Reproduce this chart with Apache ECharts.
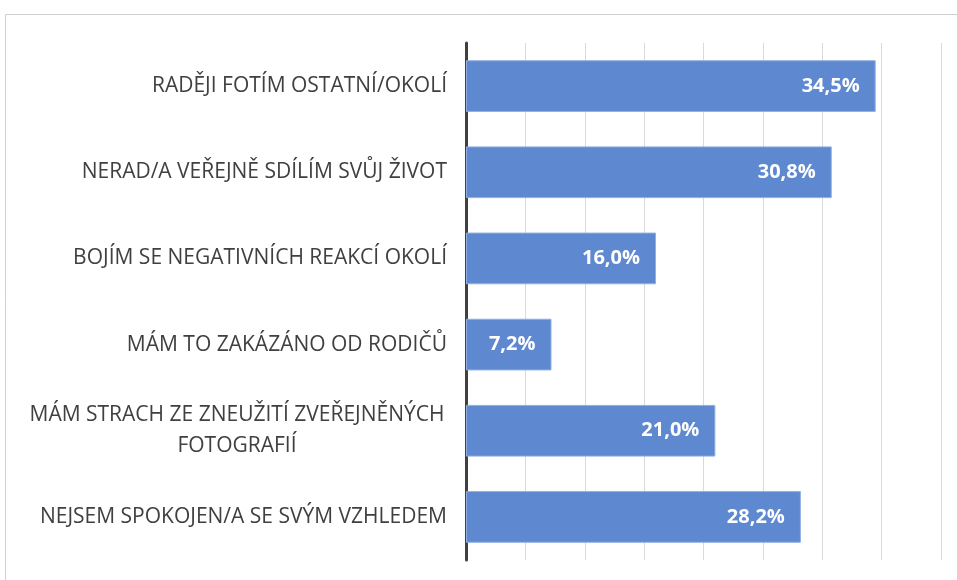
<!DOCTYPE html>
<html>
<head>
<meta charset="utf-8">
<script src="https://cdn.jsdelivr.net/npm/echarts@6/dist/echarts.min.js"></script>
<style>
  html, body { margin: 0; padding: 0; background: #fff; }
  #chart { width: 957px; height: 580px; }
</style>
</head>
<body>
<div id="chart"></div>
<script>
// kategorie shora dolu
var categories = [
    'RADĚJI FOTÍM OSTATNÍ/OKOLÍ',
    'NERAD/A VEŘEJNĚ SDÍLÍM SVŮJ ŽIVOT',
    'BOJÍM SE NEGATIVNÍCH REAKCÍ OKOLÍ',
    'MÁM TO ZAKÁZÁNO OD RODIČŮ',
    'MÁM STRACH ZE ZNEUŽITÍ ZVEŘEJNĚNÝCH\nFOTOGRAFIÍ',
    'NEJSEM SPOKOJEN/A SE SVÝM VZHLEDEM'
];
var values = [34.5, 30.8, 16.0, 7.2, 21.0, 28.2];
var xMin = 0, xMax = 40, xStep = 5;

var chart = echarts.init(document.getElementById('chart'));
var option = {
    animation: false,
    textStyle: {
        fontFamily: 'Open Sans'
    },
    graphic: [{
        type: 'rect',
        shape: { x: 5.5, y: 14.5, width: 1000, height: 600 },
        style: { fill: 'none', stroke: '#d0d0d0', lineWidth: 1 },
        silent: true
    }],
    grid: {
        left: 466,
        right: 16,
        top: 43,
        bottom: 20
    },
    xAxis: {
        type: 'value',
        min: xMin,
        max: xMax,
        interval: xStep,
        axisLabel: { show: false },
        axisTick: { show: false },
        axisLine: { show: false },
        splitLine: {
            lineStyle: { color: '#d9d9d9', width: 1 }
        }
    },
    yAxis: {
        type: 'category',
        inverse: true,
        data: categories,
        axisTick: { show: false },
        axisLine: {
            lineStyle: { color: '#404040', width: 3 }
        },
        axisLabel: {
            margin: 19,
            color: '#404040',
            fontSize: 21,
            lineHeight: 31,
            formatter: function (v) {
                if (v.indexOf('\n') >= 0) {
                    return v.split('\n').map(function (s) { return '{c|' + s + '}'; }).join('\n');
                }
                return v;
            },
            rich: {
                c: {
                    color: '#404040',
                    fontSize: 21,
                    lineHeight: 31,
                    width: 420,
                    align: 'center'
                }
            }
        }
    },
    series: [{
        type: 'bar',
        data: values,
        barCategoryGap: '40%',
        itemStyle: {
            color: '#5e88cf',
            borderColor: '#8fb0e2',
            borderWidth: 1
        },
        label: {
            show: true,
            position: 'insideRight',
            distance: 16,
            color: '#ffffff',
            fontWeight: 'bold',
            fontSize: 20,
            formatter: function (p) {
                return p.value.toFixed(1).replace('.', ',') + '%';
            }
        }
    }]
};
chart.setOption(option);
</script>
</body>
</html>
